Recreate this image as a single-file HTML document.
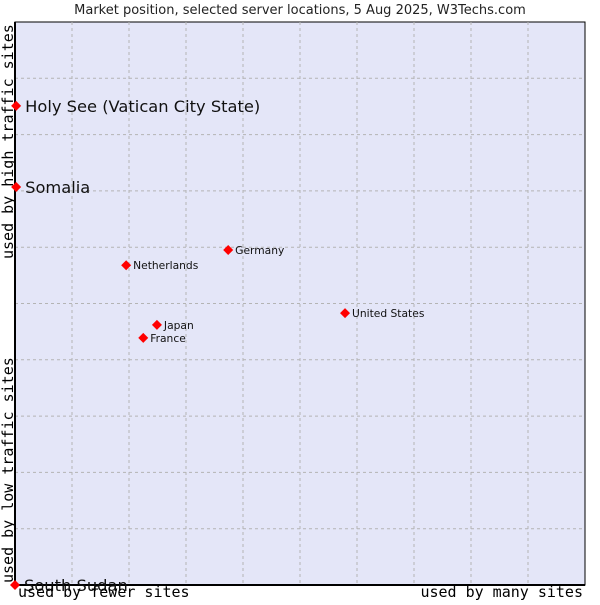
<!DOCTYPE html>
<html><head><meta charset="utf-8"><style>
body{margin:0;background:#fff;width:600px;height:600px;overflow:hidden}
svg text{font-family:"DejaVu Sans","Liberation Sans",sans-serif}
.mono{font-family:"DejaVu Sans Mono","Liberation Mono",monospace}
</style></head><body>
<svg id="c" width="600" height="600">
<text x="300" y="14" text-anchor="middle" font-size="13" fill="#222">Market position, selected server locations, 5 Aug 2025, W3Techs.com</text>
<rect x="15" y="22" width="570" height="563" fill="#e4e6f8" stroke="#000" stroke-width="1"/>
<g id="grid"></g>
<line x1="15" y1="22" x2="15" y2="585" stroke="#000" stroke-width="2"/>
<line x1="15" y1="585" x2="585" y2="585" stroke="#000" stroke-width="2"/>
<g id="pts"></g>
<text class="mono" x="18" y="597" font-size="15">used by fewer sites</text>
<text class="mono" x="583" y="597" font-size="15" text-anchor="end">used by many sites</text>
<text class="mono" transform="translate(13,583) rotate(-90)" font-size="15">used by low traffic sites</text>
<text class="mono" transform="translate(13,259) rotate(-90)" font-size="15">used by high traffic sites</text>
</svg>
<script>
const names=["Holy See (Vatican City State)","Somalia","Germany","Netherlands","United States","Japan","France","South Sudan"];
const xVals=[0.002,0.002,0.374,0.195,0.579,0.249,0.225,0];
const yVals=[0.851,0.707,0.595,0.568,0.483,0.462,0.439,0];
const big=[true,true,false,false,false,false,false,true];
const NS="http://www.w3.org/2000/svg";
const L=15,R=585,T=22,B=585;
const sx=v=>L+v*(R-L), sy=v=>B-v*(B-T);
const grid=document.getElementById('grid');
for(let i=1;i<10;i++){
 const v=document.createElementNS(NS,'line');
 v.setAttribute('x1',sx(i/10));v.setAttribute('x2',sx(i/10));v.setAttribute('y1',T);v.setAttribute('y2',B);
 v.setAttribute('stroke','#b4b4b4');v.setAttribute('stroke-dasharray','3,3');
 
 
 grid.appendChild(v);
 const h=document.createElementNS(NS,'line');
 h.setAttribute('y1',sy(i/10));h.setAttribute('y2',sy(i/10));h.setAttribute('x1',L);h.setAttribute('x2',R);
 h.setAttribute('stroke','#b4b4b4');h.setAttribute('stroke-dasharray','3,3');
 
 
 grid.appendChild(h);
}
const pts=document.getElementById('pts');
names.forEach((n,i)=>{
 const x=sx(xVals[i]),y=sy(yVals[i]);
 const d=document.createElementNS(NS,'polygon');
 d.setAttribute('points',`${x-5},${y} ${x},${y-5} ${x+5},${y} ${x},${y+5}`);
 d.setAttribute('fill','#f00');
 
 
 pts.appendChild(d);
 const t=document.createElementNS(NS,'text');
 t.setAttribute('x',x+(big[i]?9:7));t.setAttribute('y',y+(big[i]?6:4));
 t.setAttribute('font-size',big[i]?16.3:10.7);t.setAttribute('fill','#111');
 t.textContent=n;
 
 
 pts.appendChild(t);
});
</script>
</body></html>
